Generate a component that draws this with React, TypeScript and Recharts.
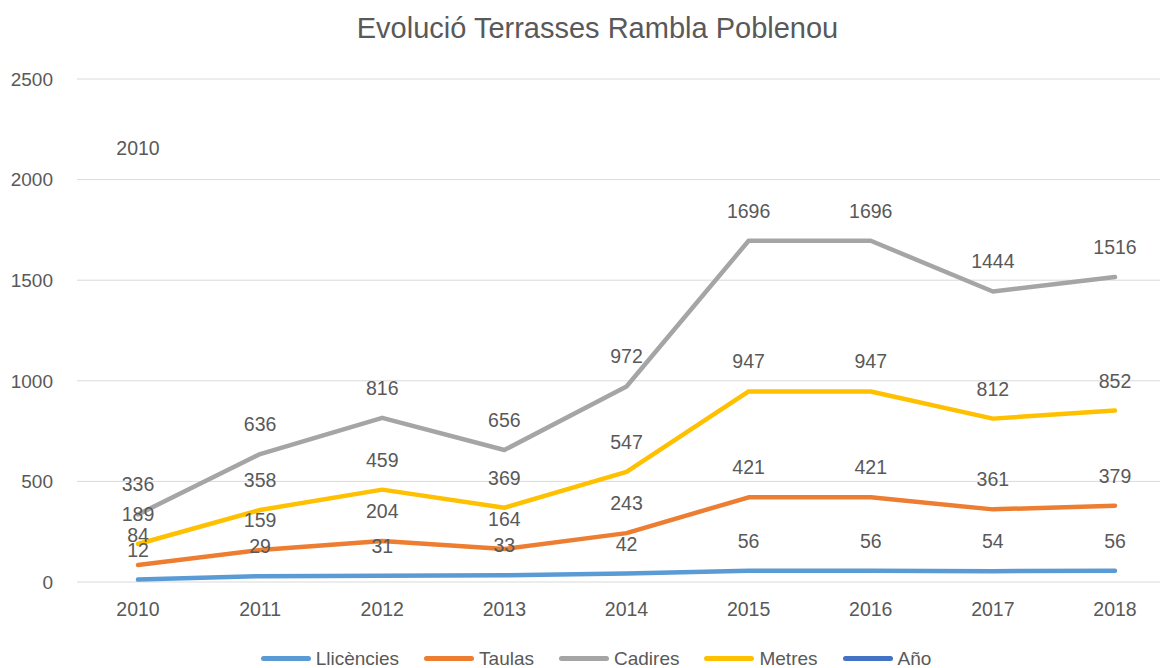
import { CartesianGrid, LabelList, Line, LineChart, XAxis, YAxis } from 'recharts';

import type { JSX } from 'react';

const years = ['2010', '2011', '2012', '2013', '2014', '2015', '2016', '2017', '2018'];
const llicencies = [12, 29, 31, 33, 42, 56, 56, 54, 56];
const taulas = [84, 159, 204, 164, 243, 421, 421, 361, 379];
const cadires = [336, 636, 816, 656, 972, 1696, 1696, 1444, 1516];
const metres = [189, 358, 459, 369, 547, 947, 947, 812, 852];
const any = [2010, null, null, null, null, null, null, null, null];
const yTicks = [0, 500, 1000, 1500, 2000, 2500];

const series = [
  { key: 'llicencies', name: 'Llicències', color: '#5B9BD5' },
  { key: 'taulas', name: 'Taulas', color: '#ED7D31' },
  { key: 'cadires', name: 'Cadires', color: '#A5A5A5' },
  { key: 'metres', name: 'Metres', color: '#FFC000' },
  { key: 'any', name: 'Año', color: '#4472C4' },
];

const data = years.map((year, i) => ({
  year,
  llicencies: llicencies[i],
  taulas: taulas[i],
  cadires: cadires[i],
  metres: metres[i],
  any: any[i],
}));

const FONT = '"Liberation Sans", Arial, sans-serif';
const TEXT = '#595959';

function ValueLabel(props: any): JSX.Element | null {
  const { x, y, value } = props;
  if (value == null || x == null || y == null) return null;
  return (
    <text
      x={x}
      y={y - 30}
      textAnchor="middle"
      dominantBaseline="central"
      fill={TEXT}
      fontSize={19.5}
      fontFamily={FONT}
    >
      {value}
    </text>
  );
}

export default function App(): JSX.Element {
  return (
    <div
      style={{
        position: 'absolute',
        left: 0,
        top: 0,
        width: 1160,
        height: 668,
        overflow: 'hidden',
        background: '#fff',
        fontFamily: FONT,
      }}
    >
      <div
        style={{
          position: 'absolute',
          left: 0,
          top: 14,
          width: 1195,
          textAlign: 'center',
          fontSize: 29,
          lineHeight: 1,
          color: TEXT,
        }}
      >
        Evolució Terrasses Rambla Poblenou
      </div>
      <div style={{ position: 'absolute', left: 0, top: 0 }}>
        <LineChart
          width={1180}
          height={668}
          data={data}
          margin={{ top: 79, right: 4, left: 0, bottom: 0 }}
        >
          <CartesianGrid stroke="#D9D9D9" strokeWidth={1} vertical={false} />
          <XAxis
            dataKey="year"
            height={86}
            padding={{ left: 61, right: 61 }}
            axisLine={false}
            tickLine={false}
            tickSize={0}
            tickMargin={20}
            tick={{ fill: TEXT, fontSize: 19.5, fontFamily: FONT }}
          />
          <YAxis
            domain={[0, 2500]}
            ticks={yTicks}
            width={77}
            axisLine={false}
            tickLine={false}
            tickSize={0}
            tickMargin={24}
            tick={{ fill: TEXT, fontSize: 19, fontFamily: FONT }}
          />
          {series.map((s) => (
            <Line
              key={s.key}
              type="linear"
              dataKey={s.key}
              name={s.name}
              stroke={s.color}
              strokeWidth={4.5}
              // a lone point (Año) must not leave a round-cap dot
              strokeLinecap={s.key === 'any' ? 'butt' : 'round'}
              strokeLinejoin="round"
              dot={false}
              activeDot={false}
              isAnimationActive={false}
            >
              <LabelList dataKey={s.key} content={<ValueLabel />} />
            </Line>
          ))}
        </LineChart>
      </div>
      <div
        style={{
          position: 'absolute',
          left: 0,
          top: 649,
          width: 1192,
          display: 'flex',
          justifyContent: 'center',
          gap: 25,
          fontSize: 19,
          lineHeight: 1,
          color: TEXT,
        }}
      >
        {series.map((s) => (
          <div key={s.key} style={{ display: 'flex', alignItems: 'center', height: 19 }}>
            <span
              style={{
                display: 'inline-block',
                width: 50,
                height: 5,
                borderRadius: 3,
                background: s.color,
                marginRight: 5,
              }}
            />
            <span>{s.name}</span>
          </div>
        ))}
      </div>
    </div>
  );
}
